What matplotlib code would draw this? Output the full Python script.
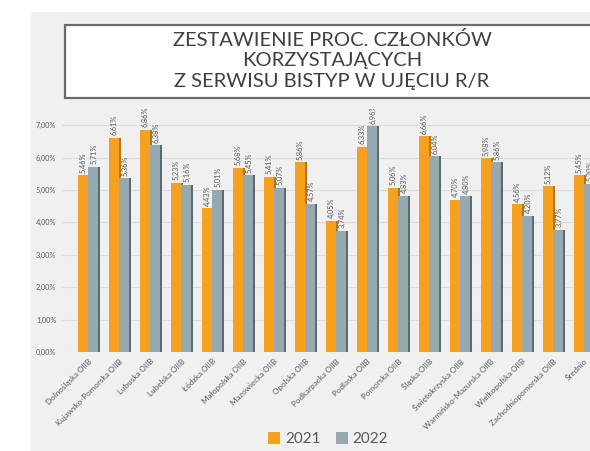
import matplotlib
matplotlib.use("Agg")
import matplotlib.pyplot as plt
from matplotlib.patches import Rectangle, Patch
import numpy as np

categories = ["Dolnośląska OIIB", "Kujawsko-Pomorska OIIB", "Lubuska OIIB", "Lubelska OIIB",
              "Łódzka OIIB", "Małopolska OIIB", "Mazowiecka OIIB", "Opolska OIIB",
              "Podkarpacka OIIB", "Podlaska OIIB", "Pomorska OIIB", "Śląska OIIB",
              "Świętokrzyska OIIB", "Warmińsko-Mazurska OIIB", "Wielkopolska OIIB",
              "Zachodniopomorska OIIB", "Średnio"]
v2021 = [5.46, 6.61, 6.86, 5.23, 4.43, 5.68, 5.41, 5.86, 4.05, 6.33, 5.06, 6.66, 4.70, 5.98, 4.56, 5.12, 5.45]
v2022 = [5.71, 5.36, 6.38, 5.16, 5.01, 5.45, 5.07, 4.57, 3.74, 6.96, 4.83, 6.04, 4.80, 5.86, 4.20, 3.77, 5.20]
yticks = [0, 1, 2, 3, 4, 5, 6, 7]
series_names = ["2021", "2022"]
title = "ZESTAWIENIE PROC. CZŁONKÓW\nKORZYSTAJĄCYCH\nZ SERWISU BISTYP W UJĘCIU R/R"

plt.rcParams['font.family'] = ['Lato', 'DejaVu Sans']

W, H = 590, 451
fig = plt.figure(figsize=(W / 100, H / 100), dpi=100, facecolor='white')

# grey chart background
fig.patches.append(Rectangle((31 / W, 0), 1 - 31 / W, 1 - 12 / H, transform=fig.transFigure,
                             facecolor='#f0f0f0', edgecolor='none', zorder=-3))
# title box
fig.patches.append(Rectangle((65 / W, 1 - 98 / H), 1.0, 73 / H, transform=fig.transFigure,
                             facecolor='white', edgecolor='#6b6b6b', linewidth=1.6, zorder=-2))
fig.text(332 / W, 1 - 60 / H, title, ha='center', va='center', fontsize=14.5,
         color='#404040', linespacing=1.25, zorder=3)

ppu = 31.0
left_px = 62
ax = fig.add_axes([left_px / W, 99 / H, 1 - left_px / W, 7.5 * 32.4 / H])
ax.set_zorder(1)
ax.set_facecolor('none')
x0 = -(88 - left_px) / ppu
ax.set_xlim(x0, x0 + (W - left_px) / ppu)
ax.set_ylim(0, 7.5)

x = np.arange(len(categories))
bw = 0.32
orange, orange_d = '#f5a01e', '#b97412'
grey, grey_d = '#97a9b0', '#5d6b71'

dx = 0.07
ax.bar(x - bw / 2 + dx, v2021, width=bw, color=orange_d, zorder=2)
ax.bar(x - bw / 2, v2021, width=bw, color=orange, zorder=3)
ax.bar(x + bw / 2 + dx, v2022, width=bw, color=grey_d, zorder=4)
ax.bar(x + bw / 2, v2022, width=bw, color=grey, zorder=5)

def fmt(v):
    return f"{v:.2f}".replace('.', ',') + "%"

for xi, a, b in zip(x, v2021, v2022):
    ax.text(xi - bw / 2, a + 0.08, fmt(a), rotation=90, ha='center', va='bottom',
            fontsize=5.3, color='#595959', zorder=6, clip_on=True)
    ax.text(xi + bw / 2 + 0.05, b + 0.08, fmt(b), rotation=90, ha='center', va='bottom',
            fontsize=5.3, color='#595959', zorder=6, clip_on=True)

ax.set_yticks(yticks)
ax.set_yticklabels([f"{t:.2f}".replace('.', ',') + "%" for t in yticks], fontsize=5.3, color='#595959')
ax.yaxis.grid(True, color='#dcdcdc', linewidth=0.8, zorder=0)
ax.set_axisbelow(True)
ax.set_xticks(x)
ax.set_xticklabels(categories, rotation=45, ha='right', rotation_mode='anchor',
                   fontsize=5.8, color='#595959')
ax.tick_params(length=0, pad=4)
for s in ax.spines.values():
    s.set_visible(False)

handles = [Patch(facecolor=orange, edgecolor='none'), Patch(facecolor=grey, edgecolor='none')]
fig.legend(handles, series_names, loc='center', bbox_to_anchor=(328 / W, 12 / H), ncol=2,
           frameon=False, fontsize=11, handlelength=0.8, handleheight=0.8,
           handletextpad=0.3, columnspacing=1.0, labelcolor='#595959')

fig.savefig('out.png', dpi=100, facecolor='white')
